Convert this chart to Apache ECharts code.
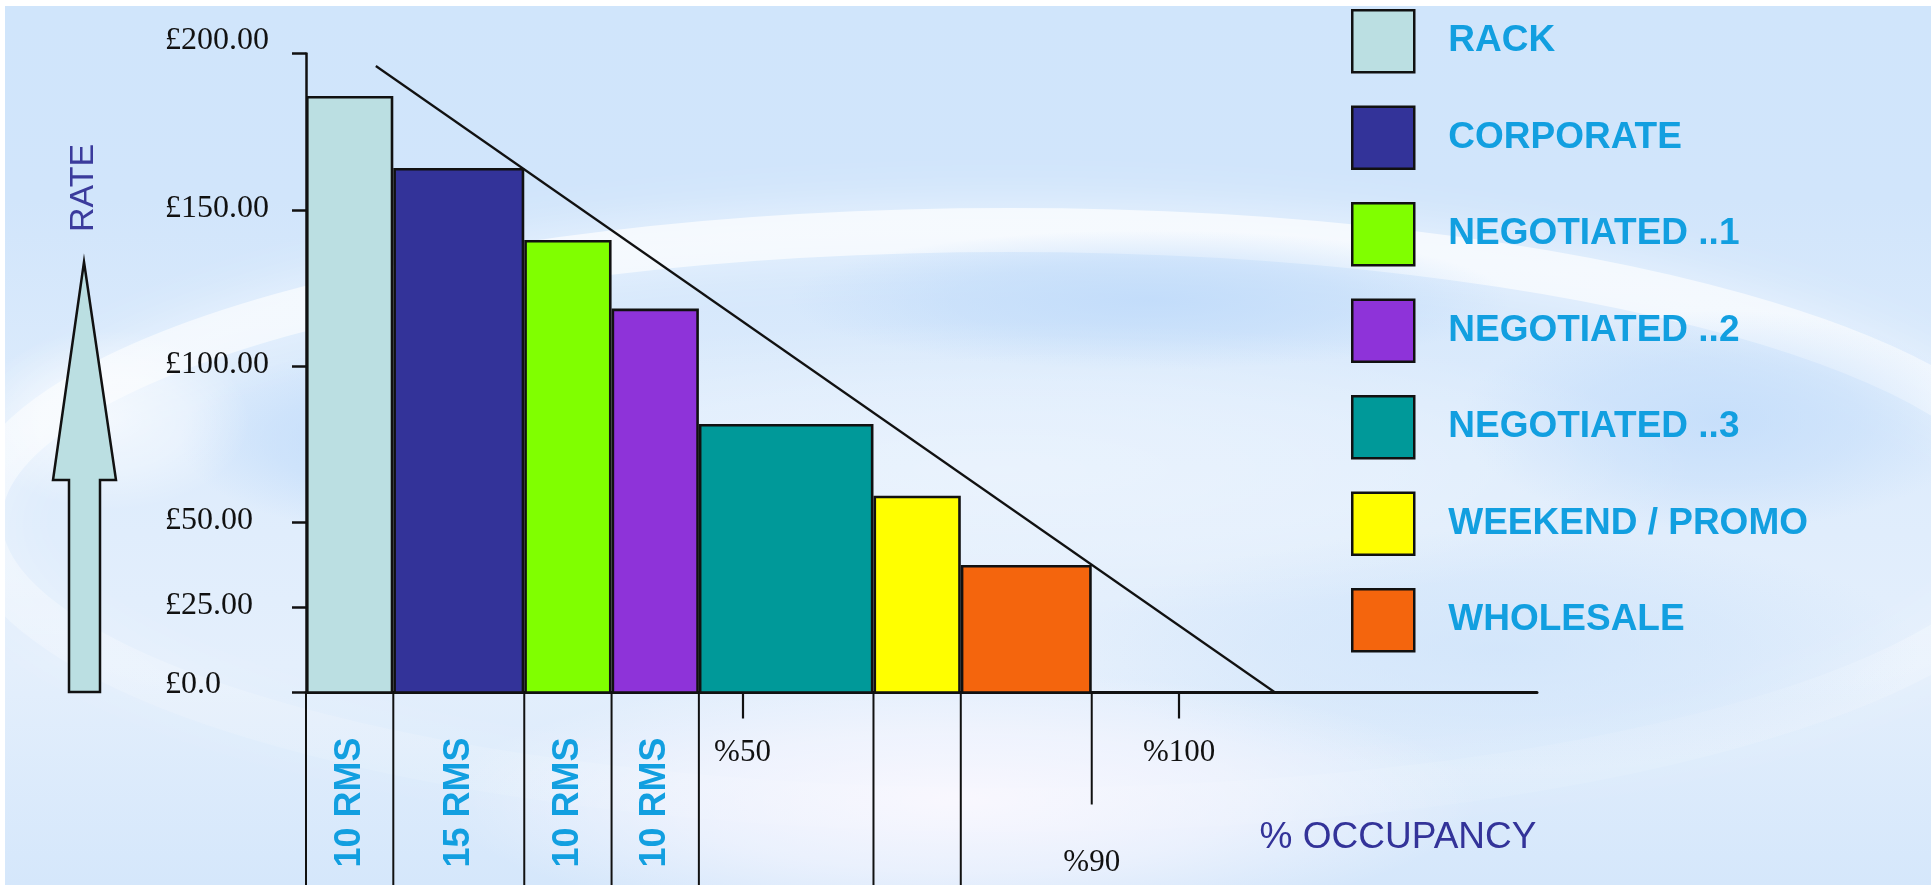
<!DOCTYPE html>
<html>
<head>
<meta charset="utf-8">
<title>Rate bands by occupancy</title>
<script src="https://cdn.jsdelivr.net/npm/echarts@6/dist/echarts.min.js"></script>
<style>
  html, body { margin: 0; padding: 0; background: #ffffff; }
  #chart { width: 1931px; height: 885px; }
</style>
</head>
<body>
<div id="chart"></div>
<script>
// Rate bands, highest rate first
const bandNames = ['RACK', 'CORPORATE', 'NEGOTIATED ..1', 'NEGOTIATED ..2', 'NEGOTIATED ..3', 'WEEKEND / PROMO', 'WHOLESALE'];
const bandRates = [186, 163, 140, 118, 81, 58, 37];      // £ per room night
const bandRooms = [10, 15, 10, 10, 20, 10, 15];          // rooms sold in each band
const labelledBands = 4;                                // bands with their room count written below the axis
const bandColors = ['#bbdfe2', '#333399', '#80ff00', '#8e33d9', '#009999', '#ffff00', '#f4650d'];

// Rate axis
const rateTicks = [0, 25, 50, 100, 150, 200];
const rateTickLabels = ['£0.0', '£25.00', '£50.00', '£100.00', '£150.00', '£200.00'];

// Occupancy axis (100-room hotel, so rooms = %)
const occupancyTicks = [50, 100];
const occupancyLabels = [50, 90, 100];

// Rate line falling with occupancy: [rooms, £]
const rateLine = [[8, 196], [111, 0]];

// The rate axis is drawn with a wider spacing below £50:
// axis units at each rate tick (one unit = one pixel of height)
const rateAxisStops = [0, 85.5, 170.5, 326.5, 482.5, 639];
function toAxis(v) {
  for (let i = 0; i < rateTicks.length - 1; i++) {
    if (v <= rateTicks[i + 1]) {
      const t = (v - rateTicks[i]) / (rateTicks[i + 1] - rateTicks[i]);
      return rateAxisStops[i] + t * (rateAxisStops[i + 1] - rateAxisStops[i]);
    }
  }
  return rateAxisStops[rateAxisStops.length - 1];
}

const bandStarts = [];
bandRooms.reduce((acc, r) => { bandStarts.push(acc); return acc + r; }, 0);
const lastEdge = bandStarts[bandStarts.length - 1] + bandRooms[bandRooms.length - 1];

const INK = '#111111';
const SANS = '"Liberation Sans", Arial, Helvetica, sans-serif';
const SERIF = '"Liberation Serif", "Times New Roman", serif';

const bandSeries = bandNames.map((name, i) => ({
  name: name,
  type: 'custom',
  z: 3,
  silent: true,
  itemStyle: { color: bandColors[i], borderColor: INK, borderWidth: 2.5 },
  encode: { x: [0, 1], y: 2 },
  data: [[bandStarts[i], bandStarts[i] + bandRooms[i], toAxis(bandRates[i])]],
  renderItem: function (params, api) {
    const a = api.coord([api.value(0), api.value(2)]);
    const b = api.coord([api.value(1), 0]);
    return {
      type: 'rect',
      shape: { x: a[0] + 1.3, y: a[1], width: b[0] - a[0] - 2.6, height: b[1] - a[1] },
      style: { fill: bandColors[i], stroke: INK, lineWidth: 2.6 }
    };
  }
}));

// Band edges carried down below the axis; the last one stops short at %90
const dividerSeries = {
  type: 'custom',
  z: 1,
  silent: true,
  encode: { x: 0, y: 1 },
  data: bandStarts.map(s => [s, 0, 0]).concat([[lastEdge, 0, 1]]),
  renderItem: function (params, api) {
    const p = api.coord([api.value(0), 0]);
    const short = api.value(2) === 1;
    return {
      type: 'line',
      shape: { x1: p[0], y1: p[1], x2: p[0], y2: short ? p[1] + 112 : api.getHeight() },
      style: { stroke: INK, lineWidth: 2 }
    };
  }
};

// Room counts written up the columns under the first bands
const roomLabelSeries = {
  type: 'custom',
  z: 4,
  silent: true,
  encode: { x: 0, y: 1 },
  data: bandStarts.slice(0, labelledBands).map((s, i) => [s + bandRooms[i] / 2, 0, bandRooms[i]]),
  renderItem: function (params, api) {
    const p = api.coord([api.value(0), 0]);
    return {
      type: 'text',
      x: p[0],
      y: p[1] + 110,
      rotation: Math.PI / 2,
      style: {
        text: api.value(2) + ' RMS',
        fill: '#129fe0',
        font: 'bold 36px ' + SANS,
        align: 'center',
        verticalAlign: 'middle'
      }
    };
  }
};

const rateLineSeries = {
  type: 'line',
  z: 6,
  silent: true,
  symbol: 'none',
  lineStyle: { color: INK, width: 2.2 },
  data: rateLine.map(([r, v]) => [r, toAxis(v)])
};

// Soft light/dark patches of the backdrop: a circle with a fading radial fill,
// stretched into an ellipse
function patch(cx, cy, rx, ry, rgb, alpha) {
  return {
    type: 'circle', z: -97, silent: true,
    x: cx, y: cy, scaleY: ry / rx,
    shape: { cx: 0, cy: 0, r: rx },
    style: {
      fill: {
        type: 'radial', x: 0.5, y: 0.5, r: 0.5,
        colorStops: [
          { offset: 0, color: 'rgba(' + rgb + ',' + alpha + ')' },
          { offset: 0.55, color: 'rgba(' + rgb + ',' + (alpha * 0.6) + ')' },
          { offset: 1, color: 'rgba(' + rgb + ',0)' }
        ]
      }
    }
  };
}

const chart = echarts.init(document.getElementById('chart'), null, { renderer: 'canvas' });

chart.setOption({
  animation: false,
  backgroundColor: '#ffffff',
  grid: { left: 306, right: 394, top: 53.5, bottom: 192.5, containLabel: false, outerBoundsMode: 'none' },
  xAxis: {
    type: 'value',
    min: 0,
    max: 141,
    splitLine: { show: false },
    axisLine: { show: true, onZero: false, lineStyle: { color: INK, width: 3 } },
    axisTick: { show: true, customValues: occupancyTicks, length: 26, lineStyle: { color: INK, width: 2.2 } },
    axisLabel: {
      show: true,
      customValues: occupancyLabels,
      margin: 45,
      formatter: v => (v === 90 ? '{low|%' + v + '}' : '{std|%' + v + '}'),
      rich: {
        std: { fontFamily: SERIF, fontSize: 31, color: INK },
        low: { fontFamily: SERIF, fontSize: 31, color: INK, padding: [110, 0, 0, 0] }
      }
    }
  },
  yAxis: {
    type: 'value',
    min: 0,
    max: rateAxisStops[rateAxisStops.length - 1],
    splitLine: { show: false },
    axisLine: { show: true, lineStyle: { color: INK, width: 2.5 } },
    axisTick: { show: true, customValues: rateTicks.map(toAxis), length: 14, lineStyle: { color: INK, width: 2.5 } },
    axisLabel: {
      show: true,
      customValues: rateTicks.map(toAxis),
      align: 'left',
      margin: 141,
      formatter: function (val) {
        const i = rateTicks.findIndex(t => Math.abs(toAxis(t) - val) < 0.01);
        const key = i === 0 ? 'bottom' : (i === rateTicks.length - 1 ? 'top' : 'std');
        return '{' + key + '|' + rateTickLabels[i] + '}';
      },
      rich: {
        std: { fontFamily: SERIF, fontSize: 32, color: INK, padding: [0, 0, 2, 0] },
        top: { fontFamily: SERIF, fontSize: 32, color: INK, padding: [0, 0, 26, 0] },
        bottom: { fontFamily: SERIF, fontSize: 32, color: INK, padding: [0, 0, 16, 0] }
      }
    }
  },
  legend: {
    show: true,
    orient: 'vertical',
    left: 1346,
    top: 4,
    itemWidth: 62,
    itemHeight: 62,
    itemGap: 32,
    icon: 'rect',
    selectedMode: false,
    textStyle: { fontFamily: SANS, fontSize: 37, fontWeight: 'bold', color: '#129fe0', padding: [0, 0, 0, 29] },
    data: bandNames.map((n, i) => ({
      name: n,
      itemStyle: { color: bandColors[i], borderColor: INK, borderWidth: 2.5 }
    }))
  },
  graphic: {
    elements: [
      // sky-blue backdrop with soft light ripples
      {
        type: 'rect', z: -100, silent: true,
        shape: { x: 5, y: 6, width: 1926, height: 879 },
        style: {
          fill: {
            type: 'linear', x: 0, y: 0, x2: 0, y2: 1,
            colorStops: [
              { offset: 0, color: '#d0e5fb' },
              { offset: 0.22, color: '#d1e5fb' },
              { offset: 0.45, color: '#dcebfc' },
              { offset: 0.75, color: '#e4effc' },
              { offset: 1, color: '#d5e7fb' }
            ]
          }
        }
      },
      {
        type: 'ellipse', z: -98, silent: true,
        shape: { cx: 1010, cy: 520, rx: 1030, ry: 290 },
        style: {
          fill: 'none',
          lineWidth: 44,
          shadowBlur: 50,
          shadowColor: 'rgba(255,255,255,0.8)',
          stroke: {
            type: 'linear', x: 0, y: 0, x2: 0, y2: 1,
            colorStops: [
              { offset: 0, color: 'rgba(255,255,255,0.7)' },
              { offset: 0.45, color: 'rgba(255,255,255,0.45)' },
              { offset: 0.8, color: 'rgba(255,255,255,0.15)' },
              { offset: 1, color: 'rgba(255,255,255,0.05)' }
            ]
          }
        }
      },
      patch(380, 440, 200, 90, '190,218,250', 0.8),
      patch(1150, 300, 360, 70, '190,218,250', 0.8),
      patch(1720, 420, 260, 110, '190,218,250', 0.7),
      patch(1500, 650, 420, 120, '200,224,250', 0.6),
      patch(960, 800, 520, 130, '255,250,255', 0.8),
      patch(110, 420, 140, 90, '255,255,255', 0.6),
      patch(1000, 470, 700, 150, '255,255,255', 0.35),
      // upward arrow beside the rate axis
      {
        type: 'polygon', z: 10, silent: true,
        shape: { points: [[84, 262], [116, 480], [100, 480], [100, 692], [69, 692], [69, 480], [53, 480]] },
        style: { fill: '#bbdfe2', stroke: INK, lineWidth: 2.5 }
      },
      {
        type: 'text', z: 10, silent: true,
        x: 84, y: 188, rotation: Math.PI / 2,
        style: { text: 'RATE', fill: '#3b3b9c', font: '34px ' + SANS, align: 'center', verticalAlign: 'middle' }
      },
      {
        type: 'text', z: 10, silent: true,
        x: 1398, y: 838,
        style: { text: '% OCCUPANCY', fill: '#333399', font: '37px ' + SANS, align: 'center', verticalAlign: 'middle' }
      }
    ]
  },
  series: bandSeries.concat([dividerSeries, roomLabelSeries, rateLineSeries])
});
</script>
</body>
</html>
